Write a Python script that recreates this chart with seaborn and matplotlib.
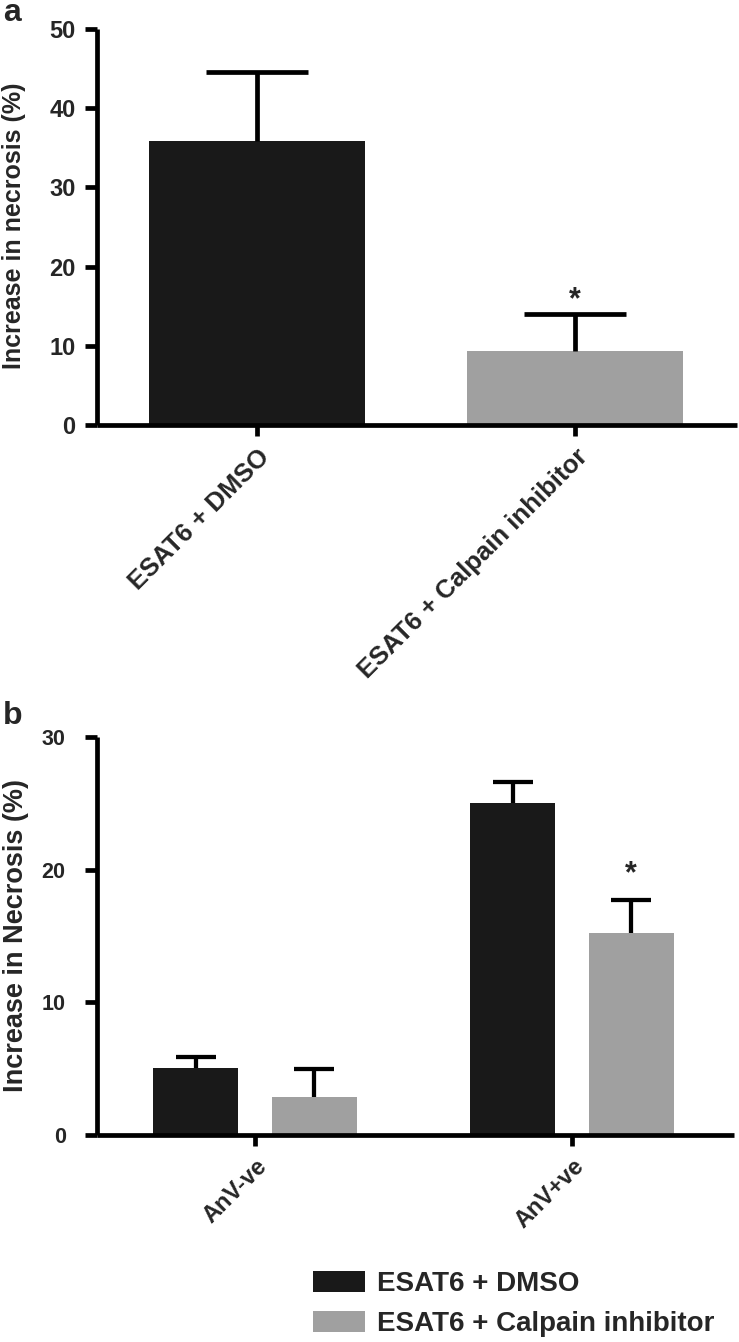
import matplotlib
matplotlib.use("Agg")
import numpy as np
import pandas as pd
import seaborn as sns
import matplotlib.pyplot as plt

# ---------------- data ----------------
treatments = ["ESAT6 + DMSO", "ESAT6 + Calpain inhibitor"]
colors = ["#191919", "#a0a0a0"]

# panel a
means_a = [35.9, 9.3]
err_a = [8.7, 4.7]
yticks_a = [0, 10, 20, 30, 40, 50]

# panel b
groups_b = ["AnV-ve", "AnV+ve"]
means_b_dmso = [5.05, 25.0]
err_b_dmso = [0.85, 1.6]
means_b_calp = [2.9, 15.2]
err_b_calp = [2.1, 2.5]
yticks_b = [0, 10, 20, 30]

# significance marks (data y of star centre)
star_a = 17.0
star_b = 20.4

# ---------------- style ----------------
sns.set_theme(style="ticks")
plt.rcParams["font.family"] = ["Liberation Sans", "DejaVu Sans"]
plt.rcParams["font.weight"] = "bold"
plt.rcParams["axes.labelweight"] = "bold"

W, H = 739, 1342
fig = plt.figure(figsize=(W / 100, H / 100), dpi=100)

LW = 3.4


def style_axis(ax, ytick_fs, ypad, xtick_fs):
    sns.despine(ax=ax)
    for s in ["left", "bottom"]:
        ax.spines[s].set_linewidth(LW)
        ax.spines[s].set_color("black")
        ax.spines[s].set_capstyle("butt")
    ax.tick_params(axis="y", length=8.5, width=LW, labelsize=ytick_fs, pad=ypad, color="black")
    ax.tick_params(axis="x", length=8, width=LW, labelsize=xtick_fs, pad=6, color="black")


def upper_errorbars(ax, xs, means, errs, lw, capsize):
    eb = ax.errorbar(xs, means, yerr=[np.zeros(len(errs)), errs], fmt="none",
                     ecolor="black", elinewidth=lw, capsize=capsize, capthick=lw, zorder=3)
    caps = eb[1]
    if len(caps) >= 2:
        caps[0].set_visible(False)  # lower caps (sit on the bar top)


# ---------------- panel a ----------------
ax_a = fig.add_axes([97 / W, 1 - 425 / H, (737 - 97) / W, (425 - 29) / H])
df_a = pd.DataFrame({"treatment": treatments, "value": means_a})
sns.barplot(data=df_a, x="treatment", y="value", hue="treatment", order=treatments,
            hue_order=treatments, palette=colors, width=0.68, errorbar=None,
            legend=False, saturation=1, ax=ax_a, linewidth=0)
xs_a = []
for cont in ax_a.containers:
    for b in cont:
        xs_a.append(b.get_x() + b.get_width() / 2)
xs_a = sorted(xs_a)
upper_errorbars(ax_a, xs_a, means_a, err_a, LW, 37)
ax_a.set_ylim(0, 50)
ax_a.set_yticks(yticks_a)
ax_a.set_xlim(-0.503, 1.509)
ax_a.set_xticks([0, 1])
ax_a.set_xticklabels(treatments, rotation=45, ha="right", va="top",
                     rotation_mode="anchor", fontweight="bold")
ax_a.set_xlabel("")
ax_a.set_ylabel("Increase in necrosis (%)", fontsize=18, fontweight="bold")
ax_a.yaxis.set_label_coords(26 / W, 1 - 226 / H, transform=fig.transFigure)
style_axis(ax_a, 17, 7, 18.5)
ax_a.annotate("*", xy=(xs_a[1], star_a), xytext=(0, -0.58 * 22), textcoords="offset points",
              ha="center", va="baseline", fontsize=22, fontweight="bold")

# ---------------- panel b ----------------
ax_b = fig.add_axes([97 / W, 1 - 1135 / H, (734 - 97) / W, (1135 - 737) / H])
df_b = pd.DataFrame({
    "group": groups_b * 2,
    "treatment": [treatments[0]] * 2 + [treatments[1]] * 2,
    "value": means_b_dmso + means_b_calp,
})
sns.barplot(data=df_b, x="group", y="value", hue="treatment", order=groups_b,
            hue_order=treatments, palette=colors, width=0.748, gap=0.283,
            errorbar=None, saturation=1, ax=ax_b, linewidth=0)
xs_star = None
for i, (cont, m, e) in enumerate(zip(ax_b.containers, [means_b_dmso, means_b_calp],
                                      [err_b_dmso, err_b_calp])):
    xs = [b.get_x() + b.get_width() / 2 for b in cont]
    upper_errorbars(ax_b, xs, m, e, LW * 0.9, 14.4)
    if i == 1:
        xs_star = xs[1]
ax_b.set_ylim(0, 30)
ax_b.set_yticks(yticks_b)
ax_b.set_xlim(-0.498, 1.511)
ax_b.set_xticks([0, 1])
ax_b.set_xticklabels(groups_b, rotation=45, ha="right", va="top",
                     rotation_mode="anchor", fontweight="bold")
ax_b.set_xlabel("")
ax_b.set_ylabel("Increase in Necrosis (%)", fontsize=19.5, fontweight="bold")
ax_b.yaxis.set_label_coords(29 / W, 1 - 935 / H, transform=fig.transFigure)
style_axis(ax_b, 15.5, 14, 17)
ax_b.annotate("*", xy=(xs_star, star_b), xytext=(0, -0.58 * 22), textcoords="offset points",
              ha="center", va="baseline", fontsize=22, fontweight="bold")

sns.move_legend(ax_b, "upper left", bbox_to_anchor=(313 / W, 1 - 1271 / H),
                bbox_transform=fig.transFigure, frameon=False, title=None,
                fontsize=20, handlelength=1.87, handleheight=0.8,
                handletextpad=0.45, labelspacing=0.5, borderpad=0, borderaxespad=0)

# panel letters
fig.text(3 / W, 1 - 21 / H, "a", fontsize=23, fontweight="bold", ha="left", va="baseline")
fig.text(3 / W, 1 - 724 / H, "b", fontsize=23, fontweight="bold", ha="left", va="baseline")

fig.savefig("out.png", dpi=100, facecolor="white")
